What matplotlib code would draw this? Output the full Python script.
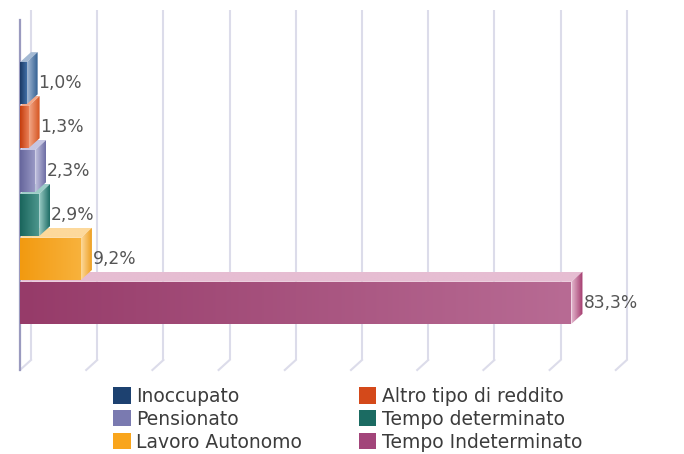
import numpy as np
import matplotlib
matplotlib.use("Agg")
import matplotlib.pyplot as plt
from matplotlib.patches import Polygon, Patch
from matplotlib.colors import LinearSegmentedColormap

# ---- data ----
categories = ["Inoccupato", "Altro tipo di reddito", "Pensionato",
              "Tempo determinato", "Lavoro Autonomo", "Tempo Indeterminato"]
values = [1.0, 1.3, 2.3, 2.9, 9.2, 83.3]
grid_ticks = [0, 10, 20, 30, 40, 50, 60, 70, 80, 90]

# ---- styles ----
front_left = ["#1b3964", "#c43c0c", "#66669c", "#1a655c", "#f29a10", "#963b69"]
front_right = ["#3f6fa6", "#ea8058", "#9c9cc8", "#4f9990", "#f8b23c", "#b86b94"]
top_cols = ["#a4bad4", "#f3a888", "#c6c6e2", "#9ccdc7", "#fdd99c", "#e6bdd2"]
side_cols = ["#27568c", "#d4521e", "#6d6da4", "#1d6d65", "#ee9e1e", "#a3386c"]
legend_cols = ["#1d4170", "#d4491a", "#7a7ab0", "#1b6b62", "#f9a51c", "#a2457a"]

W, H, DPI = 684, 454, 100
fig = plt.figure(figsize=(W / DPI, H / DPI), dpi=DPI)
fig.patch.set_facecolor("white")

ax_left, ax_right, ax_top, ax_bot = 20, 631, 20, 370
ax = fig.add_axes([ax_left / W, (H - ax_bot) / H, (ax_right - ax_left) / W, (ax_bot - ax_top) / H])
ax.set_axis_off()

px_per_x = 6.62
xmax = (ax_right - ax_left) / px_per_x
ylim = (6.53, -1.44)
px_per_y = (ax_bot - ax_top) / (ylim[0] - ylim[1])
ax.set_xlim(0, xmax)
ax.set_ylim(*ylim)

dx = 11 / px_per_x
dy = -10 / px_per_y
bar_h = 0.96

# grid (back wall) and floor diagonals
for t in grid_ticks:
    ax.plot([t + dx, t + dx], [ylim[0] + dy, ylim[1] + dy], color="#dcdcea", lw=1.5,
            zorder=1, clip_on=False, solid_capstyle="butt")
    ax.plot([t, t + dx], [ylim[0], ylim[0] + dy], color="#dcdcea", lw=1.5,
            zorder=1, clip_on=False)
ax.plot([0, 0], [ylim[0], ylim[1]], color="#9a9abf", lw=1.6, zorder=2, clip_on=False)


def face(verts, c0, c1, horizontal, z):
    poly = Polygon(verts, closed=True, facecolor="none", edgecolor="none")
    ax.add_patch(poly)
    xs = [v[0] for v in verts]
    ys = [v[1] for v in verts]
    if horizontal:
        grad = np.linspace(0, 1, 256).reshape(1, -1)
    else:
        grad = np.linspace(0, 1, 256).reshape(-1, 1)
    cmap = LinearSegmentedColormap.from_list("g", [c0, c1])
    im = ax.imshow(grad, extent=[min(xs), max(xs), min(ys), max(ys)], origin="lower",
                   cmap=cmap, aspect="auto", zorder=z, interpolation="bilinear")
    im.set_clip_path(poly)


n = len(values)
for i in range(n - 1, -1, -1):
    v = values[i]
    yt = i - bar_h / 2
    yb = i + bar_h / 2
    z = 10 + (n - i) * 4
    # top face
    face([(0, yt), (v, yt), (v + dx, yt + dy), (dx, yt + dy)],
         top_cols[i], top_cols[i], True, z)
    # side face
    face([(v, yt), (v + dx, yt + dy), (v + dx, yb + dy), (v, yb)],
         top_cols[i], side_cols[i], True, z + 1)
    # front face
    face([(0, yt), (v, yt), (v, yb), (0, yb)],
         front_left[i], front_right[i], True, z + 2)
    lab = f"{v:.1f}".replace(".", ",") + "%"
    ax.text(v + dx + 1 / px_per_x, i, lab, va="center", ha="left", fontsize=12.3,
            color="#555555", zorder=50, clip_on=False)

ax.set_xlim(0, xmax)
ax.set_ylim(*ylim)

# legend (row-wise order in two columns)
order = [0, 2, 4, 1, 3, 5]
handles = [Patch(facecolor=legend_cols[k], edgecolor="none") for k in order]
labels = [categories[k] for k in order]
fig.legend(handles, labels, ncol=2, loc="upper left",
           bbox_to_anchor=(113 / W, 1 - 387 / H), frameon=False, fontsize=13.5,
           handlelength=0.95, handleheight=0.95, handletextpad=0.3,
           columnspacing=3.0, labelspacing=0.2, borderaxespad=0, borderpad=0,
           labelcolor="#3c3c3c")

fig.savefig("out.png", dpi=DPI)
